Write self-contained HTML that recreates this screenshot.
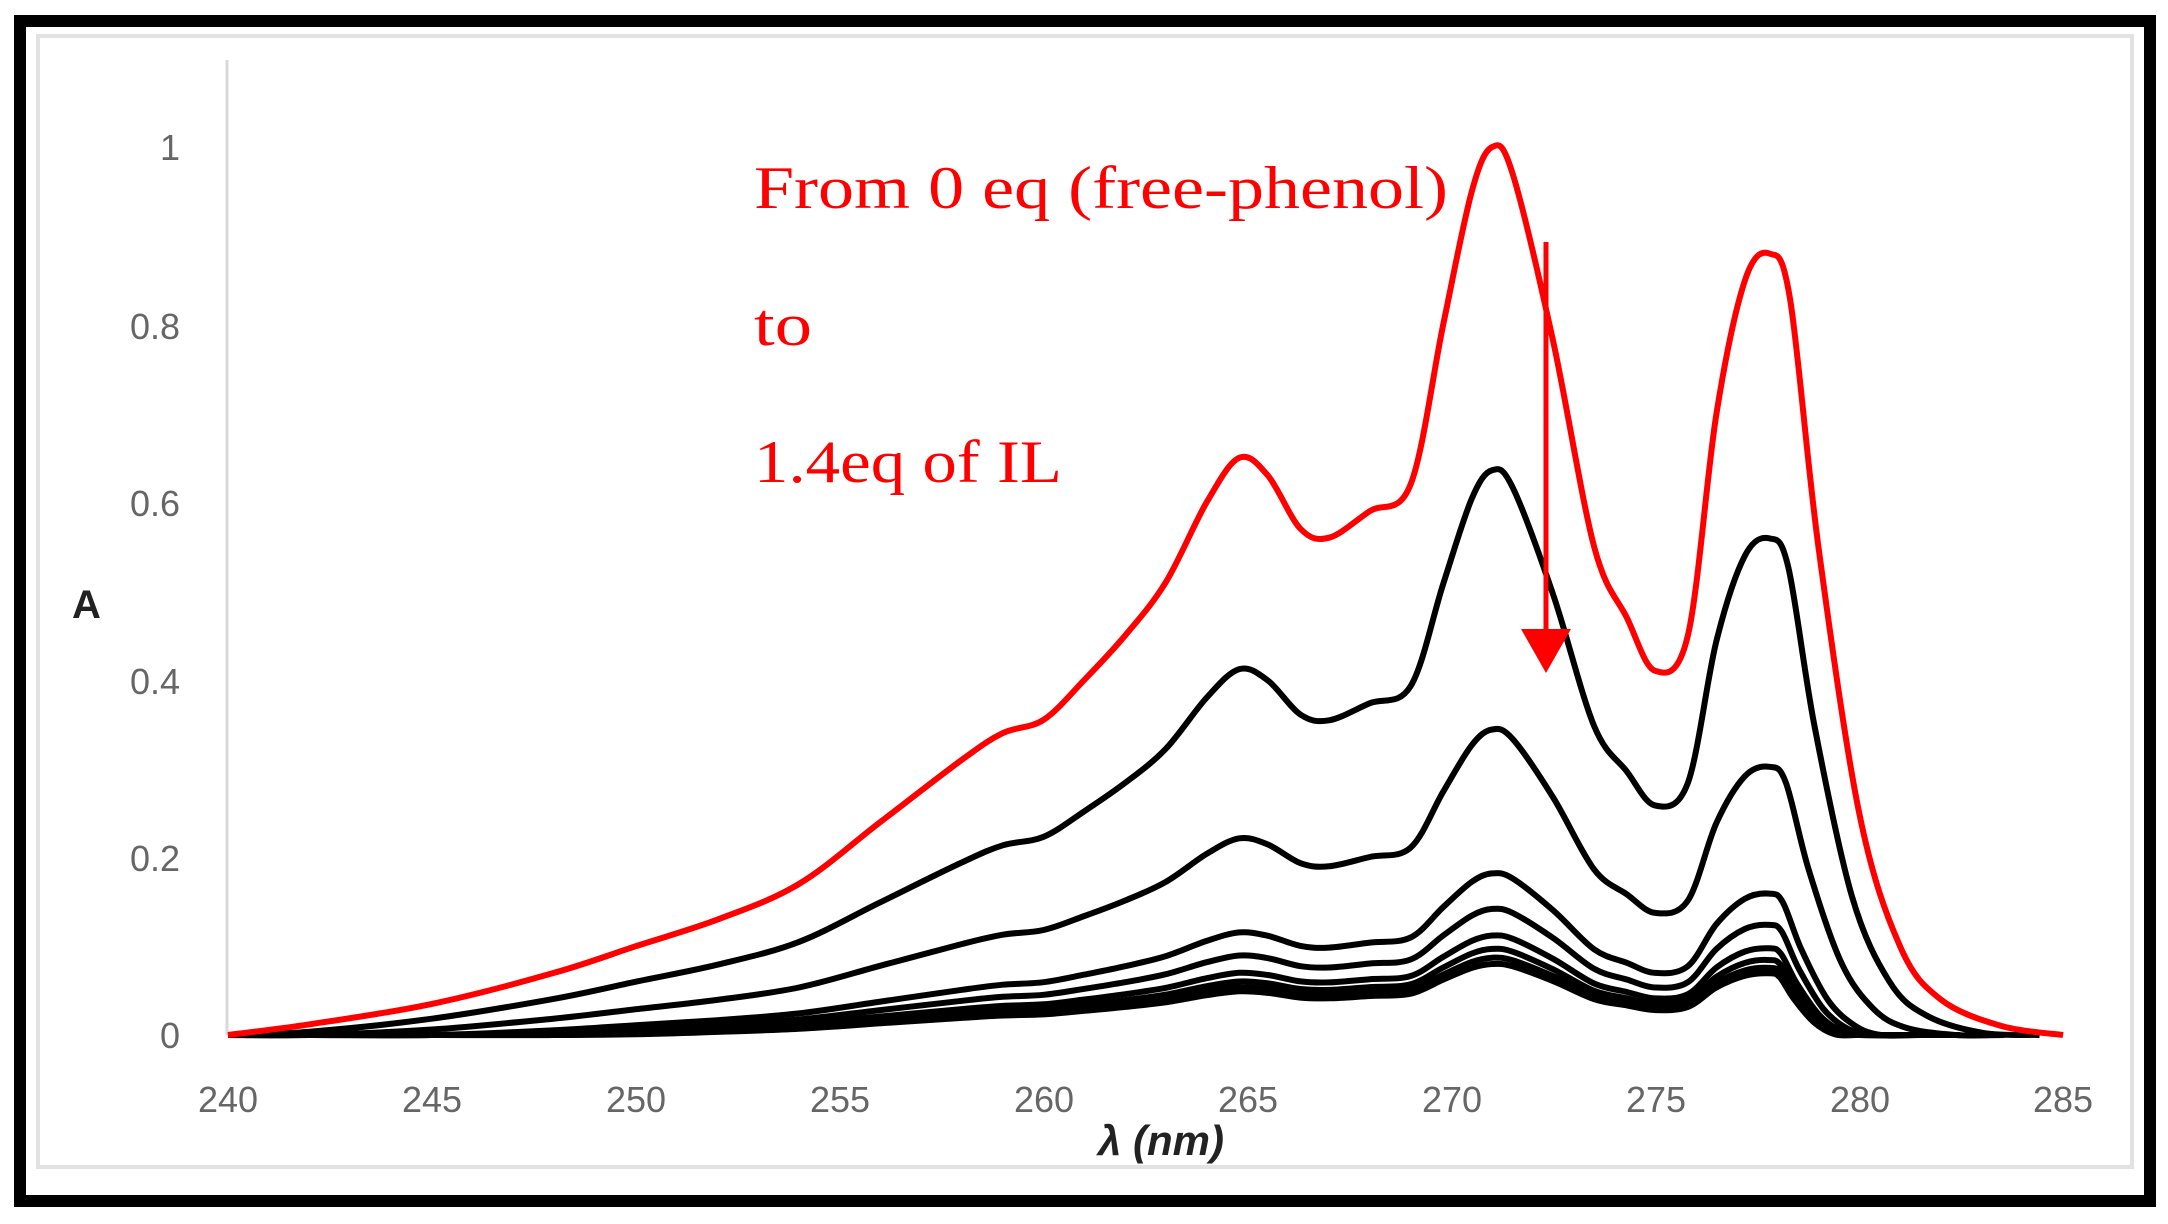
<!DOCTYPE html>
<html><head><meta charset="utf-8"><style>
html,body{margin:0;padding:0;background:#fff;width:2168px;height:1224px;overflow:hidden}
svg{display:block}
</style></head><body>
<svg id="s" width="2168" height="1224" xmlns="http://www.w3.org/2000/svg">
<rect x="0" y="0" width="2168" height="1224" fill="#fff"/>
<rect x="20" y="21" width="2130" height="1180" fill="none" stroke="#000" stroke-width="12"/>
<rect x="38" y="36" width="2094" height="1131" fill="none" stroke="#e2e2e2" stroke-width="4"/>
<line x1="227" y1="60" x2="227" y2="1035" stroke="#d9d9d9" stroke-width="3"/>
<g font-family="Liberation Sans, sans-serif" font-size="36" fill="#666" text-anchor="end">
<text x="180" y="160">1</text>
<text x="180" y="339">0.8</text>
<text x="180" y="516">0.6</text>
<text x="180" y="694">0.4</text>
<text x="180" y="871">0.2</text>
<text x="180" y="1048">0</text>
</g>
<g font-family="Liberation Sans, sans-serif" font-size="36" fill="#666" text-anchor="middle">
<text x="228" y="1112">240</text><text x="432" y="1112">245</text><text x="636" y="1112">250</text>
<text x="840" y="1112">255</text><text x="1044" y="1112">260</text><text x="1248" y="1112">265</text>
<text x="1452" y="1112">270</text><text x="1656" y="1112">275</text><text x="1860" y="1112">280</text>
<text x="2063" y="1112">285</text>
</g>
<text x="72" y="618" font-family="Liberation Sans, sans-serif" font-weight="bold" font-size="40" fill="#222">A</text>
<text x="1161" y="1155" font-family="Liberation Sans, sans-serif" font-weight="bold" font-style="italic" font-size="42" fill="#222" text-anchor="middle">λ (nm)</text>
<g id="curves"></g>
<g font-family="Liberation Serif, serif" font-size="60" fill="#f00">
<text x="754" y="208" textLength="694" lengthAdjust="spacingAndGlyphs">From 0 eq (free-phenol)</text>
<text x="754" y="345" textLength="58" lengthAdjust="spacingAndGlyphs">to</text>
<text x="754" y="482" textLength="308" lengthAdjust="spacingAndGlyphs">1.4eq of IL</text>
</g>
<line x1="1546" y1="242" x2="1546" y2="640" stroke="#f00" stroke-width="5"/>
<polygon points="1521,629 1571,629 1546,673" fill="#f00"/>
</svg>
<script>
var R=[[240,0],[242,0.012],[245,0.035],[248,0.07],[250,0.1],[252,0.13],[254,0.17],[256,0.24],[258,0.31],[259,0.34],[260,0.355],[261,0.4],[262,0.45],[263,0.51],[264,0.6],[264.8,0.65],[265.5,0.63],[266.3,0.57],[267,0.56],[268,0.59],[269,0.62],[269.8,0.8],[270.5,0.95],[271,1.0],[271.5,0.97],[272.5,0.78],[273.5,0.55],[274.3,0.47],[275,0.41],[275.8,0.45],[276.5,0.7],[277.2,0.85],[277.8,0.88],[278.3,0.83],[279,0.55],[280,0.25],[281,0.1],[282,0.04],[283.5,0.01],[285,0]];
function X(n){return 228+(n-240)*40.78}
function Y(a){return 1035-a*888}
function path(pts){
 var p=pts.map(function(q){return [X(q[0]),Y(q[1])]});
 var d="M"+p[0][0].toFixed(1)+","+p[0][1].toFixed(1);
 for(var i=0;i<p.length-1;i++){
  var p0=p[Math.max(0,i-1)],p1=p[i],p2=p[i+1],p3=p[Math.min(p.length-1,i+2)];
  var c1=[p1[0]+(p2[0]-p0[0])/6,p1[1]+(p2[1]-p0[1])/6];
  var c2=[p2[0]-(p3[0]-p1[0])/6,p2[1]-(p3[1]-p1[1])/6];
  d+=" C"+c1[0].toFixed(1)+","+c1[1].toFixed(1)+" "+c2[0].toFixed(1)+","+c2[1].toFixed(1)+" "+p2[0].toFixed(1)+","+p2[1].toFixed(1);
 }
 return d;
}
var g=document.getElementById("curves"),html="";
var S=[[0.64,0.004,0.92],[0.35,0.006,0.8],[0.19,0.008,0.65],[0.15,0.008,0.6],[0.12,0.008,0.56],[0.105,0.008,0.54],[0.095,0.008,0.52],[0.088,0.008,0.5]];
S.forEach(function(s){
 var pts=R.map(function(q){var x=q[0];if(x>277.8)x=277.8+(x-277.8)*s[2];return [x,Math.max(0,q[1]*s[0]-s[1])]});
 html+='<path d="'+path(pts)+'" fill="none" stroke="#000" stroke-width="6" stroke-linejoin="round"/>';
});
html+='<path d="'+path(R)+'" fill="none" stroke="#f00" stroke-width="6" stroke-linejoin="round"/>';
g.innerHTML=html;
</script>
</body></html>
